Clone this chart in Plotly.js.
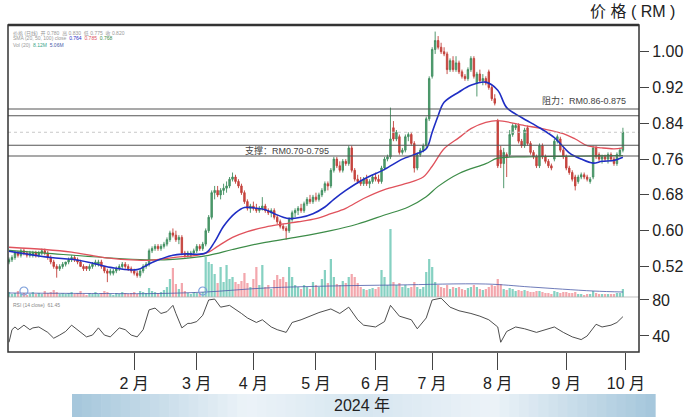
<!DOCTYPE html>
<html><head><meta charset="utf-8">
<script src="https://cdn.plot.ly/plotly-3.0.1.min.js"></script>
<style>html,body{margin:0;padding:0;background:#fff}#chart{width:690px;height:420px}</style>
</head><body><div id="chart"></div>
<script>
// ---- data ----
const openP=[
.530,.535,.540,.550,.545,.555,.550,.545,.545,.550,
.545,.550,.555,.550,.540,.530,.520,.515,.520,.525,
.530,.535,.540,.535,.530,.520,.520,.515,.520,.525,
.525,.530,.520,.510,.505,.505,.510,.515,.520,.525,
.520,.515,.510,.505,.500,.510,.520,.525,.555,.560,
.565,.560,.565,.570,.580,.595,.590,.580,.585,.550,
.545,.545,.550,.555,.565,.560,.570,.600,.630,.685,
.690,.680,.690,.695,.700,.715,.720,.710,.700,.685,
.665,.650,.655,.650,.645,.650,.655,.645,.640,.645,
.630,.620,.610,.605,.600,.625,.640,.645,.650,.645,
.660,.670,.665,.675,.670,.680,.690,.705,.700,.735,
.760,.745,.735,.755,.750,.785,.735,.715,.710,.705,
.715,.705,.710,.720,.715,.710,.740,.760,.765,.830,
.805,.810,.775,.780,.810,.815,.795,.740,.770,.780,
.790,.850,.945,1.005,1.025,1.010,1.000,.995,.960,.980,
.960,.975,.955,.945,.940,.960,.985,.930,.950,.935,
.940,.955,.920,.895,.845,.780,.750,.770,.770,.815,
.830,.835,.800,.790,.830,.795,.775,.765,.745,.790,
.765,.755,.745,.760,.800,.805,.780,.765,.740,.730,
.720,.710,.720,.725,.720,.710,.720,.785,.770,.760,
.765,.760,.770,.760,.750,.770,.780];
const highP=[
.540,.545,.555,.555,.560,.560,.555,.555,.555,.555,
.555,.560,.560,.555,.545,.535,.525,.525,.530,.530,
.540,.545,.545,.540,.535,.525,.520,.525,.530,.535,
.535,.535,.520,.515,.515,.515,.520,.525,.530,.530,
.525,.520,.515,.510,.515,.525,.530,.560,.565,.570,
.570,.570,.575,.585,.600,.605,.600,.590,.590,.555,
.555,.555,.560,.570,.570,.575,.605,.635,.690,.700,
.700,.695,.705,.710,.720,.730,.725,.715,.705,.690,
.670,.660,.665,.660,.655,.675,.660,.650,.650,.650,
.635,.625,.615,.610,.630,.645,.650,.655,.660,.665,
.675,.680,.680,.685,.685,.695,.710,.710,.740,.765,
.765,.755,.760,.760,.790,.790,.740,.725,.720,.720,
.725,.715,.725,.730,.725,.745,.765,.770,.875,.845,
.825,.815,.785,.815,.820,.820,.800,.775,.785,.795,
.855,.945,1.010,1.045,1.035,1.020,1.010,1.000,.985,.990,
.990,.980,.960,.950,.965,.990,.990,.955,.960,.950,
.945,.960,.925,.905,.850,.790,.785,.775,.825,.840,
.840,.840,.805,.830,.835,.800,.780,.770,.795,.795,
.770,.760,.750,.805,.815,.810,.785,.770,.745,.735,
.725,.725,.730,.730,.725,.720,.790,.790,.775,.770,
.770,.775,.775,.765,.775,.785,.830];
const lowP=[
.525,.530,.535,.540,.540,.545,.540,.540,.540,.540,
.540,.545,.545,.535,.525,.515,.495,.510,.515,.520,
.525,.530,.530,.525,.520,.510,.510,.510,.515,.520,
.520,.515,.505,.485,.500,.500,.505,.510,.515,.515,
.510,.505,.500,.495,.495,.505,.515,.520,.550,.555,
.555,.555,.560,.565,.575,.585,.575,.570,.545,.540,
.540,.540,.545,.550,.555,.555,.565,.595,.625,.670,
.675,.670,.680,.685,.695,.710,.705,.695,.680,.660,
.645,.640,.645,.640,.640,.645,.640,.635,.630,.625,
.615,.605,.600,.580,.595,.620,.630,.635,.640,.640,
.655,.660,.660,.665,.665,.675,.685,.690,.695,.730,
.740,.730,.730,.745,.745,.730,.710,.705,.700,.700,
.700,.695,.705,.710,.705,.705,.735,.755,.760,.800,
.800,.770,.770,.775,.800,.790,.730,.735,.765,.775,
.785,.845,.940,.995,1.005,.995,.990,.950,.955,.955,
.955,.950,.940,.935,.935,.955,.940,.900,.930,.925,
.925,.915,.890,.880,.740,.740,.695,.720,.765,.810,
.825,.795,.785,.785,.790,.770,.760,.740,.740,.760,
.750,.740,.735,.755,.795,.775,.760,.735,.725,.710,
.690,.705,.715,.715,.710,.705,.715,.760,.755,.750,
.755,.750,.755,.745,.745,.765,.775];
const closeP=[
.535,.540,.550,.545,.555,.550,.545,.550,.550,.545,
.550,.555,.550,.540,.530,.520,.515,.520,.525,.530,
.535,.540,.535,.530,.520,.515,.515,.520,.525,.530,
.530,.520,.510,.505,.510,.510,.515,.520,.525,.520,
.515,.510,.505,.500,.510,.520,.525,.555,.560,.565,
.560,.565,.570,.580,.595,.590,.580,.585,.550,.545,
.550,.550,.555,.565,.560,.570,.600,.630,.685,.690,
.680,.690,.695,.700,.715,.720,.710,.700,.685,.665,
.650,.655,.650,.645,.650,.655,.645,.640,.645,.630,
.620,.610,.605,.600,.625,.640,.645,.650,.645,.660,
.670,.665,.675,.670,.680,.690,.705,.700,.735,.760,
.745,.735,.755,.750,.785,.735,.715,.710,.705,.715,
.705,.710,.720,.715,.710,.740,.760,.765,.805,.805,
.820,.775,.780,.810,.815,.795,.740,.770,.780,.790,
.850,.940,1.005,1.025,1.010,1.000,.995,.960,.980,.960,
.975,.955,.945,.940,.960,.985,.945,.950,.935,.940,
.930,.920,.895,.885,.745,.750,.775,.765,.815,.835,
.835,.800,.790,.825,.795,.775,.765,.745,.790,.765,
.755,.745,.740,.800,.810,.780,.765,.740,.730,.715,
.700,.720,.725,.720,.715,.715,.785,.765,.760,.765,
.760,.770,.760,.750,.770,.780,.820];
const volume=[
5,3,4,6,3,4,2,3,5,3, 4,3,6,4,5,7,5,3,4,3, 4,5,3,4,6,3,2,4,3,5,
3,4,6,5,3,2,4,3,5,4, 3,4,5,3,6,5,4,9,6,5, 4,5,7,10,18,29,13,8,14,6,
4,3,5,4,4,5,40,35,33,23, 14,30,15,32,18,20,15,13,16,24, 14,10,18,30,12,32,10,12,8,17,
22,18,20,15,30,20,12,10,8,12, 10,8,15,12,10,18,27,14,38,20, 13,12,16,14,20,23,20,14,10,8,
7,8,9,8,10,27,20,12,68,15, 12,14,10,12,9,10,15,10,8,10, 25,38,30,15,12,10,9,12,8,10,
9,10,8,7,9,10,12,10,8,7, 8,10,12,11,18,13,8,7,9,8, 6,7,6,7,6,5,5,6,6,5,
4,4,3,6,5,4,5,5,4,4, 5,3,3,2,3,3,6,4,3,3, 3,3,3,3,4,4,8];
const maBlueIdx=[0,14,21,27,34,43,48,55,59,66,69,72,76,79,83,86,89,92,94,98,102,106,109,113,119,126,132,136,140,142,144,146,151,155,160,164,167,172,178,183,188,192,196,199,203,206];
const maBlueVal=[.554,.540,.536,.529,.518,.513,.529,.545,.548,.550,.575,.610,.640,.652,.650,.647,.638,.630,.627,.630,.638,.653,.670,.690,.715,.737,.760,.770,.783,.820,.857,.887,.910,.925,.932,.914,.875,.853,.830,.808,.774,.760,.751,.755,.757,.764];
const maRedIdx=[0,12,21,32,43,48,55,63,67,70,75,80,86,92,97,103,108,113,119,126,133,139,142,146,151,155,160,164,173,179,186,190,194,199,203,206];
const maRedVal=[.563,.558,.552,.540,.534,.534,.540,.545,.552,.565,.585,.598,.608,.615,.620,.627,.638,.650,.672,.692,.705,.720,.744,.783,.808,.828,.842,.846,.835,.828,.817,.805,.790,.785,.783,.785];
const maGreenIdx=[0,12,32,46,55,67,75,86,97,108,117,126,134,140,144,151,160,164,173,185,198,206];
const maGreenVal=[.556,.550,.540,.535,.536,.545,.558,.574,.586,.600,.615,.635,.653,.676,.699,.728,.750,.762,.765,.766,.767,.768];
const volMaIdx=[0,30,50,66,86,108,130,160,175,196,206];
const volMaVal=[4,3.5,3.5,5,9,11,12,13,10,6,5];
const rsiIdx=[0,1,2,3,5,7,8,10,13,15,17,19,21,24,26,28,30,32,34,37,39,41,43,45,47,49,51,53,55,56,58,60,61,63,65,67,69,71,74,78,80,83,85,88,90,93,95,98,101,104,108,111,114,117,119,123,126,128,131,135,137,140,142,145,148,151,155,158,161,164,165,167,170,173,177,180,183,186,189,192,194,197,199,202,204,206];
const rsiVal=[33,47,50,47,52,47,49,50,44,37.5,41,45,52,44,39,41,49,41,39,49,47,41,39,47,69,71,65,67,74,65,49,54,54,56,63,80,81,72,74,65,60,55,58,50,47,44,55,58,62,66,70,65,72,58,52,50,56,74,62,58,48,60,80,82,72,68,65,62,58,50,33,45,50,48,44,47,50,44,39,36,40,53,50,52,55,61.45];
const divIdx=[5,65];
const monthTickIdx=[42,63,82,103,123,142,164,187,207];
const monthTickText=['2 月','3 月','4 月','5 月','6 月','7 月','8 月','9 月','10 月'];
const priceTicks=[0.52,0.60,0.68,0.76,0.84,0.92,1.00];
const rsiTicks=[40,80];
const resistance=[0.872,0.857];
const support=[0.791,0.767];
const lastPrice=0.82;

// ---- drawing ----
const idx=closeP.map((_,i)=>i);
const volColors=closeP.map((c,i)=>c>openP[i]?'#86d1c2':'#f3a7ad');
const FONT='"Liberation Sans", Arial, "Noto Sans CJK SC", sans-serif';

const traces=[
 {type:'bar',x:idx,y:volume,xaxis:'x',yaxis:'y',marker:{color:volColors,line:{width:0}},width:0.75,hoverinfo:'skip'},
 {type:'scatter',mode:'lines',x:volMaIdx,y:volMaVal,xaxis:'x',yaxis:'y',line:{color:'#4a5aa8',width:0.8,shape:'spline'},hoverinfo:'skip'},
 {type:'scatter',mode:'markers',x:divIdx,y:divIdx.map(()=>6),xaxis:'x',yaxis:'y',marker:{symbol:'circle-open',size:8,color:'#7d9fda',line:{width:1.2}},hoverinfo:'skip'},
 {type:'candlestick',x:idx,open:openP,high:highP,low:lowP,close:closeP,xaxis:'x',yaxis:'y2',whiskerwidth:0,
  increasing:{line:{color:'#3f8d5f',width:0.9},fillcolor:'#50a072'},
  decreasing:{line:{color:'#c23f3a',width:0.9},fillcolor:'#cc4842'},hoverinfo:'skip'},
 {type:'scatter',mode:'lines',x:maGreenIdx,y:maGreenVal,xaxis:'x',yaxis:'y2',line:{color:'#3d8c48',width:1.2,shape:'spline'},hoverinfo:'skip'},
 {type:'scatter',mode:'lines',x:maRedIdx,y:maRedVal,xaxis:'x',yaxis:'y2',line:{color:'#e0525c',width:1.3,shape:'spline'},hoverinfo:'skip'},
 {type:'scatter',mode:'lines',x:maBlueIdx,y:maBlueVal,xaxis:'x',yaxis:'y2',line:{color:'#1f2ec4',width:1.6,shape:'spline'},hoverinfo:'skip'},
 {type:'scatter',mode:'lines',x:rsiIdx,y:rsiVal,xaxis:'x',yaxis:'y3',line:{color:'#3a3a3a',width:0.9},hoverinfo:'skip'}
];

const PD=0.1682; // price / rsi split (paper)
const shapes=[];
// year band gradient
const bx0=0.1014,bx1=1.0254,by0=-0.1988,by1=-0.1284,N=60;
function mix(a,b,t){return a.map((v,k)=>Math.round(v+(b[k]-v)*t));}
const edge=[164,198,219],light=[236,243,248],mid=[214,230,240];
for(let k=0;k<N;k++){
  const t=(k+0.5)/N;
  let c;
  if(t<0.3) c=mix(edge,light,t/0.3);
  else if(t<0.5) c=mix(light,mid,(t-0.3)/0.2);
  else if(t<0.72) c=mix(mid,light,(t-0.5)/0.22);
  else c=mix(light,edge,(t-0.72)/0.28);
  shapes.push({type:'rect',xref:'paper',yref:'paper',x0:bx0+(bx1-bx0)*k/N,x1:bx0+(bx1-bx0)*(k+1)/N+0.001,y0:by0,y1:by1,fillcolor:`rgb(${c.join(',')})`,line:{width:0},layer:'below'});
}
resistance.concat(support).forEach(v=>shapes.push({type:'line',xref:'paper',yref:'y2',x0:0,x1:1,y0:v,y1:v,line:{color:'#555',width:1.1}}));
shapes.push({type:'line',xref:'paper',yref:'y2',x0:0,x1:1,y0:lastPrice,y1:lastPrice,line:{color:'#c8c8c8',width:1,dash:'dot'}});
shapes.push({type:'line',xref:'paper',yref:'paper',x0:0,x1:1,y0:PD,y1:PD,line:{color:'#b0b0b0',width:0.8}});
shapes.push({type:'rect',xref:'paper',yref:'paper',x0:0,x1:1,y0:0,y1:1,line:{color:'#333',width:1.5}});
shapes.push({type:'line',xref:'paper',yref:'paper',x0:0,x1:1,y0:1,y1:1,line:{color:'#333',width:2.5}});

const annotations=[
 {xref:'paper',yref:'paper',x:1.06,y:1.04,xanchor:'right',yanchor:'middle',text:'价 格 ( RM )',showarrow:false,font:{family:FONT,size:16,color:'#222'}},
 {xref:'paper',yref:'y2',x:0.983,y:0.890,xanchor:'right',yanchor:'middle',text:'阻力：RM0.86-0.875',showarrow:false,font:{family:FONT,size:9,color:'#444'}},
 {xref:'paper',yref:'y2',x:0.372,y:0.780,xanchor:'left',yanchor:'middle',text:'支撑：RM0.70-0.795',showarrow:false,font:{family:FONT,size:9,color:'#444'}},
 {xref:'paper',yref:'paper',x:0.561,y:-0.163,xanchor:'center',yanchor:'middle',text:'2024 年',showarrow:false,font:{family:FONT,size:16,color:'#222'}},
 {xref:'paper',yref:'paper',x:0.004,y:0.992,xanchor:'left',yanchor:'top',text:'价格 (日线)  开 0.780  高 0.830  低 0.775  收 0.820',showarrow:false,font:{family:FONT,size:5,color:'#999'}},
 {xref:'paper',yref:'paper',x:0.004,y:0.975,xanchor:'left',yanchor:'top',text:'SMA (20, 50, 100) close  <span style="color:#1f2ec4">0.764</span>  <span style="color:#e0525c">0.785</span>  <span style="color:#3d8c48">0.768</span>',showarrow:false,font:{family:FONT,size:5,color:'#999'}},
 {xref:'paper',yref:'paper',x:0.004,y:0.955,xanchor:'left',yanchor:'top',text:'Vol (20)  <span style="color:#3aa58a">8.12M</span>  <span style="color:#4a5aa8">5.06M</span>',showarrow:false,font:{family:FONT,size:5,color:'#999'}},
 {xref:'paper',yref:'paper',x:0.004,y:PD-0.01,xanchor:'left',yanchor:'top',text:'RSI (14 close)  61.45',showarrow:false,font:{family:FONT,size:5,color:'#888'}}
];

const layout={
 width:690,height:420,margin:{l:8,r:51,t:25,b:68},
 paper_bgcolor:'#fff',plot_bgcolor:'#fff',showlegend:false,
 font:{family:FONT,size:16,color:'#222'},
 xaxis:{domain:[0,1],anchor:'y3',range:[-0.34,211.4],tickvals:monthTickIdx,ticktext:monthTickText,
   ticks:'outside',ticklen:17,tickwidth:1,tickcolor:'#444',showgrid:false,zeroline:false,showline:false,
   rangeslider:{visible:false},tickfont:{family:FONT,size:16,color:'#222'},fixedrange:true},
 yaxis:{domain:[PD,1],range:[0,272],visible:false,fixedrange:true},
 yaxis2:{overlaying:'y',anchor:'x',side:'right',range:[0.4518,1.0597],tickvals:priceTicks,ticktext:priceTicks.map(v=>v.toFixed(2)),
   ticks:'outside',ticklen:9,tickwidth:1,tickcolor:'#444',showgrid:false,zeroline:false,showline:false,tickfont:{family:FONT,size:16,color:'#222'}},
 yaxis3:{domain:[0,PD],anchor:'x',side:'right',range:[22.2,83.3],tickvals:rsiTicks,ticktext:rsiTicks.map(String),
   ticks:'outside',ticklen:9,tickwidth:1,tickcolor:'#444',showgrid:false,zeroline:false,showline:false,tickfont:{family:FONT,size:16,color:'#222'}},
 shapes:shapes,annotations:annotations,bargap:0.2
};
Plotly.newPlot('chart',traces,layout,{staticPlot:true,displayModeBar:false});
</script></body></html>
